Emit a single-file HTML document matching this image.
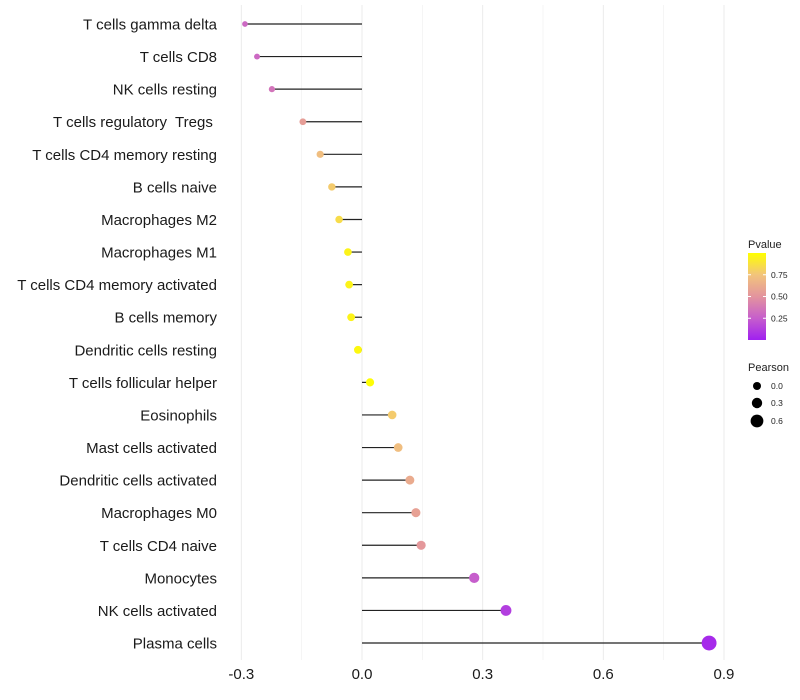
<!DOCTYPE html>
<html><head><meta charset="utf-8"><style>
body{margin:0;background:#fff;font-family:"Liberation Sans",sans-serif}
svg{display:block}
text{white-space:pre}
</style></head><body>
<svg id="c" width="800" height="700">
<defs><linearGradient id="g" x1="0" y1="1" x2="0" y2="0">
<stop offset="0" stop-color="#A020F0"/><stop offset="0.25" stop-color="#C65ECC"/><stop offset="0.5" stop-color="#E3949E"/><stop offset="0.75" stop-color="#F2C47C"/><stop offset="1" stop-color="#FFFF00"/></linearGradient></defs>
</svg>
<script>
const categories=["T cells gamma delta","T cells CD8","NK cells resting","T cells regulatory  Tregs ","T cells CD4 memory resting","B cells naive","Macrophages M2","Macrophages M1","T cells CD4 memory activated","B cells memory","Dendritic cells resting","T cells follicular helper","Eosinophils","Mast cells activated","Dendritic cells activated","Macrophages M0","T cells CD4 naive","Monocytes","NK cells activated","Plasma cells"];
const pearson=[-0.291,-0.261,-0.224,-0.147,-0.104,-0.075,-0.057,-0.035,-0.032,-0.027,-0.010,0.020,0.075,0.090,0.119,0.134,0.147,0.279,0.358,0.863];
const pvalue=[0.30,0.30,0.35,0.55,0.72,0.78,0.85,0.95,0.95,0.95,0.97,0.99,0.78,0.72,0.62,0.57,0.52,0.25,0.12,0.04];
const xTicks=[-0.3,0,0.3,0.6,0.9];
const xTickLabels=["-0.3","0.0","0.3","0.6","0.9"];
const NS="http://www.w3.org/2000/svg",svg=document.getElementById('c');
const x=v=>362+v*402.2, y=i=>24+i*32.58;
function mk(t,a,p){const e=document.createElementNS(NS,t);for(const k in a)e.setAttribute(k,a[k]);(p||svg).appendChild(e);return e;}
function lerp(a,b,t){return a.map((v,i)=>Math.round(v+(b[i]-v)*t));}
const stops=[[0,[160,32,240]],[0.25,[198,94,204]],[0.5,[227,148,158]],[0.75,[242,196,124]],[1,[255,255,0]]];
function col(p){for(let i=1;i<stops.length;i++){if(p<=stops[i][0]){const t=(p-stops[i-1][0])/(stops[i][0]-stops[i-1][0]);return 'rgb('+lerp(stops[i-1][1],stops[i][1],t).join(',')+')';}}return 'rgb(255,255,0)';}
const rad=v=>4+4*v;
for(let v=-0.3;v<=0.901;v+=0.15){const g=mk('line',{x1:x(v),x2:x(v),y1:5,y2:660,stroke:'#ebebeb','stroke-width':Math.abs((v*100)%30)<1?1:0.5});

}
xTicks.forEach((v,i)=>{const t=mk('text',{x:x(v),y:679,'text-anchor':'middle','font-size':15,fill:'#1a1a1a'});t.textContent=xTickLabels[i];

});
categories.forEach((c,i)=>{
const t=mk('text',{x:217,y:y(i)+5.5,'text-anchor':'end','font-size':15,fill:'#1a1a1a'});t.textContent=c;


const l=mk('line',{x1:x(0),x2:x(pearson[i]),y1:y(i),y2:y(i),stroke:'#222','stroke-width':1.2});


const d=mk('circle',{cx:x(pearson[i]),cy:y(i),r:rad(pearson[i]),fill:col(pvalue[i])});


});
const lg=mk('g',{});
let t=mk('text',{x:748,y:248,'font-size':11,fill:'#222'},lg);t.textContent='Pvalue';
mk('rect',{x:748,y:253,width:18,height:87,fill:'url(#g)'},lg);
[[0.75,'0.75'],[0.5,'0.50'],[0.25,'0.25']].forEach(([p,s])=>{const yy=340-p*87;mk('line',{x1:748,x2:751,y1:yy,y2:yy,stroke:'#fff'},lg);mk('line',{x1:763,x2:766,y1:yy,y2:yy,stroke:'#fff'},lg);const q=mk('text',{x:771,y:yy+3,'font-size':8.5,fill:'#222'},lg);q.textContent=s;});
t=mk('text',{x:748,y:371,'font-size':11,fill:'#222'},lg);t.textContent='Pearson';
[[0,'0.0',386],[0.3,'0.3',403],[0.6,'0.6',421]].forEach(([v,s,yy])=>{mk('circle',{cx:757,cy:yy,r:rad(v),fill:'#000'},lg);const q=mk('text',{x:771,y:yy+3,'font-size':8.5,fill:'#222'},lg);q.textContent=s;});
</script>
</body></html>
